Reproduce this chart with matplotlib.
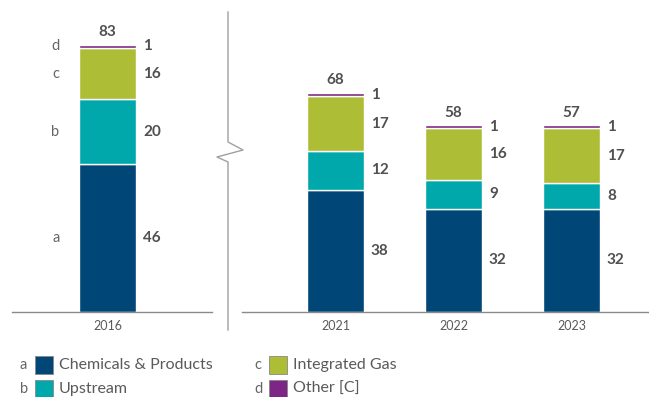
import matplotlib.pyplot as plt
from matplotlib.patches import Rectangle
from matplotlib.lines import Line2D

plt.rcParams['font.family'] = ['Lato', 'DejaVu Sans']

# data
years_left = ['2016']
years_right = ['2021', '2022', '2023']
letters = ['a', 'b', 'c', 'd']
segments = ['Chemicals & Products', 'Upstream', 'Integrated Gas', 'Other [C]']
colors = ['#004677', '#00a8ab', '#adbe36', '#7d2685']
chem = [46, 38, 32, 32]
upstream = [20, 12, 9, 8]
gas = [16, 17, 16, 17]
other = [1, 1, 1, 1]
totals = ['83', '68', '58', '57']

val_color = '#505050'
tick_color = '#5a5a5a'
line_color = '#8a8a8a'

W, H = 649, 397
fig = plt.figure(figsize=(W / 100, H / 100), dpi=100)


def fx(px):
    return px / W


def fy(py):
    return 1 - py / H


base = 312
unit = 3.22
ymax = 90

axl = fig.add_axes([fx(12), fy(base), fx(200), (ymax * unit) / H])
axr = fig.add_axes([fx(242), fy(base), fx(407), (ymax * unit) / H])

series = [chem, upstream, gas, other]


def draw(ax, idx, labels, xlim):
    xs = list(range(len(idx)))
    bottoms = [0] * len(idx)
    for s, vals in enumerate(series):
        v = [vals[i] for i in idx]
        ax.bar(xs, v, 0.483, bottom=bottoms, color=colors[s],
               edgecolor='white', linewidth=1.0)
        for k, x in enumerate(xs):
            mid = bottoms[k] + v[k] / 2
            ax.annotate(str(v[k]), (x + 0.2415, mid), xytext=(5, 0),
                        textcoords='offset points', ha='left', va='center',
                        fontsize=11, fontweight='bold', color=val_color)
        bottoms = [b + vv for b, vv in zip(bottoms, v)]
    for k, x in enumerate(xs):
        ax.annotate(totals[idx[k]], (x, bottoms[k]), xytext=(0, 4),
                    textcoords='offset points', ha='center', va='bottom',
                    fontsize=11, fontweight='bold', color=val_color)
    ax.set_xlim(*xlim)
    ax.set_ylim(0, ymax)
    ax.set_xticks(xs)
    ax.set_xticklabels(labels)
    ax.tick_params(axis='x', length=0, labelsize=9, colors=tick_color, pad=6)
    ax.set_yticks([])
    for sp in ['top', 'right', 'left']:
        ax.spines[sp].set_visible(False)
    ax.spines['bottom'].set_color(line_color)
    ax.spines['bottom'].set_linewidth(1)
    ax.patch.set_alpha(0)


draw(axl, [0], years_left, (-0.809, 0.886))
draw(axr, [1, 2, 3], years_right, (-0.792, 2.657))

# segment letters next to 2016 bar
cum = 0
for s, vals in enumerate(series):
    axl.annotate(letters[s], (-0.2415, cum + vals[0] / 2), xytext=(-14, 0),
                 textcoords='offset points', ha='right', va='center',
                 fontsize=10.5, color='#666666')
    cum += vals[0]

# axis break line
bx = [228, 228, 243, 217, 228, 228]
by = [12, 142, 150, 157, 162, 330]
fig.add_artist(Line2D([fx(x) for x in bx], [fy(y) for y in by],
                      color='#a0a0a0', linewidth=1, transform=fig.transFigure))

# legend
leg_pos = [(20, 365), (20, 389), (254, 365), (254, 389)]
for s in range(4):
    lx, ly = leg_pos[s]
    fig.text(fx(lx), fy(ly), letters[s], ha='left', va='center',
             fontsize=10.5, color='#666666')
    fig.add_artist(Rectangle((fx(lx + 15), fy(ly + 9)), fx(18), 18 / H,
                             transform=fig.transFigure, facecolor=colors[s],
                             edgecolor='#888888', linewidth=0.6))
    fig.text(fx(lx + 39), fy(ly), segments[s], ha='left', va='center',
             fontsize=11.5, color=tick_color)

fig.savefig('out.png', dpi=100)
